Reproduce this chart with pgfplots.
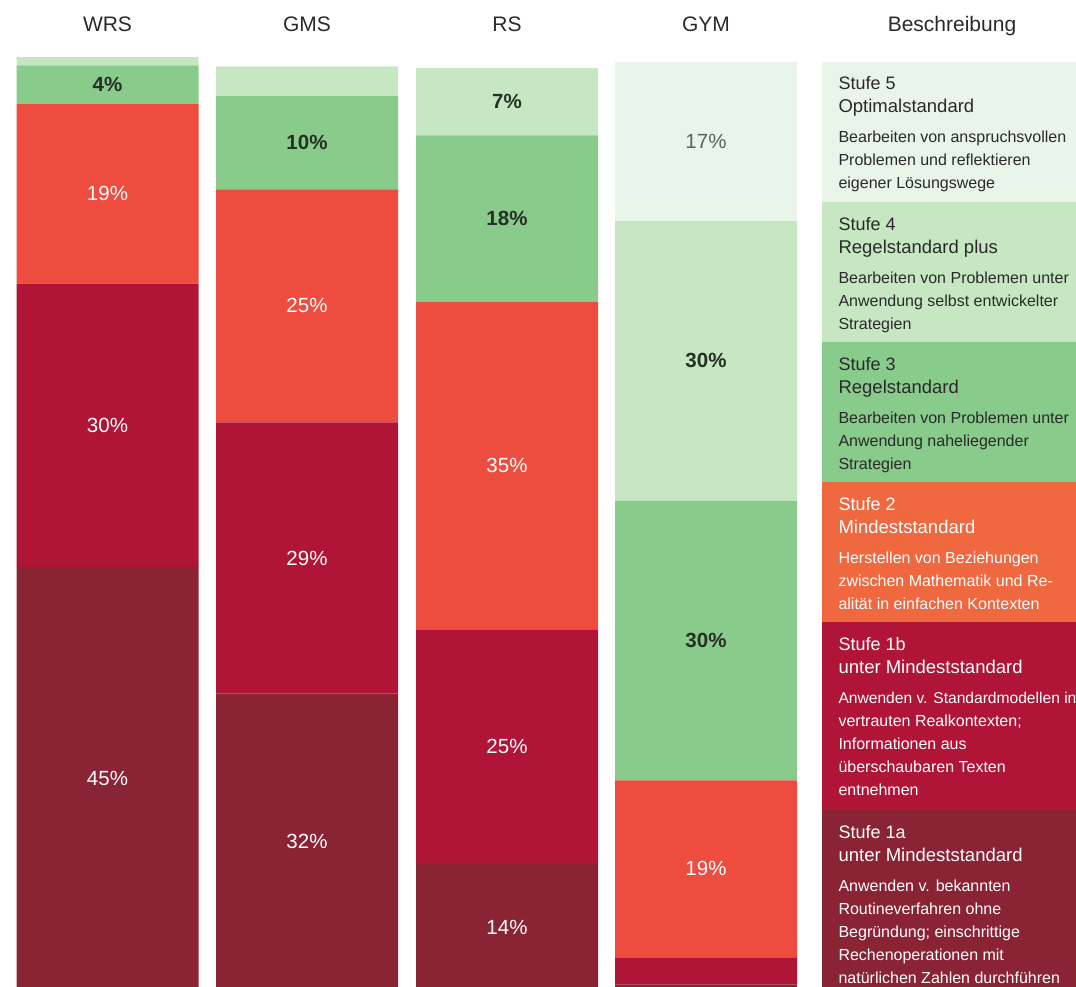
\documentclass[border=0pt]{standalone}
\usepackage{fontspec}
\setmainfont{Liberation Sans}
\usepackage{pgfplots}
\pgfplotsset{compat=1.18}

\definecolor{stufeIa}{HTML}{8A2333}
\definecolor{stufeIb}{HTML}{B01436}
\definecolor{stufeII}{HTML}{EE4C3E}
\definecolor{stufeIIdesc}{HTML}{EF6840}
\definecolor{stufeIII}{HTML}{88CB8B}
\definecolor{stufeIV}{HTML}{C6E7C2}
\definecolor{stufeV}{HTML}{E9F5E9}
\definecolor{darktext}{HTML}{263026}
\definecolor{headtext}{HTML}{2A2A2A}

% one block of the description column: top (px), text colour, Stufe, title, body lines
\newcommand{\descblock}[5]{%
  \node[anchor=base west, text=#2, font=\fontsize{18}{22}\selectfont] at (835,{987-#1-29}) {#3};
  \node[anchor=base west, text=#2, font=\fontsize{18.5}{22}\selectfont] at (835,{987-#1-52}) {#4};
  \foreach \txt [count=\i] in {#5} {
    \node[anchor=base west, text=#2, font=\fontsize{16}{20}\selectfont] at (835,{987-#1-59-23*\i}) {\txt};
  }%
}

\begin{document}
\begin{tikzpicture}
\tikzset{
  pct/.style={font=\fontsize{20.5}{24}\selectfont, anchor=center, text=white},
  pctd/.style={font=\bfseries\fontsize{20.5}{24}\selectfont, anchor=center, text=darktext},
}

% school type columns
\begin{axis}[
  at={(0pt,0pt)}, anchor=south west,
  scale only axis, width=1076pt, height=987pt,
  xmin=0, xmax=1076, ymin=0.32, ymax=106.22,
  hide axis,
  ybar stacked, bar width=182,
]
\addplot[fill=stufeIa, draw=none] coordinates {(107.5,45.4) (307,31.8) (507,13.5) (706,0.6)};
\addplot[fill=stufeIb, draw=none] coordinates {(107.5,30.4) (307,29.1) (507,25.2) (706,2.9)};
\addplot[fill=stufeII, draw=none] coordinates {(107.5,19.3) (307,25.0) (507,35.1) (706,19.0)};
\addplot[fill=stufeIII, draw=none] coordinates {(107.5,4.1) (307,10.0) (507,17.9) (706,30.0)};
\addplot[fill=stufeIV, draw=none] coordinates {(107.5,0.9) (307,3.2) (507,7.2) (706,30.0)};
\addplot[fill=stufeV, draw=none] coordinates {(107.5,0) (307,0) (507,0) (706,17.1)};
\end{axis}

% description column backgrounds
\begin{axis}[
  at={(0pt,0pt)}, anchor=south west,
  scale only axis, width=1076pt, height=987pt,
  xmin=0, xmax=1076, ymin=0.32, ymax=106.22,
  hide axis,
  ybar stacked, bar width=276,
]
\addplot[fill=stufeIa, draw=none] coordinates {(960,19.3)};
\addplot[fill=stufeIb, draw=none] coordinates {(960,20.2)};
\addplot[fill=stufeIIdesc, draw=none] coordinates {(960,15.0)};
\addplot[fill=stufeIII, draw=none] coordinates {(960,15.0)};
\addplot[fill=stufeIV, draw=none] coordinates {(960,15.0)};
\addplot[fill=stufeV, draw=none] coordinates {(960,15.1)};

% value labels, at the middle of each segment
% WRS
\node[pct] at (axis cs:107.5,22.7) {45\%};
\node[pct] at (axis cs:107.5,60.6) {30\%};
\node[pct] at (axis cs:107.5,85.45) {19\%};
\node[pctd] at (axis cs:107.5,97.15) {4\%};
% GMS
\node[pct] at (axis cs:307,15.9) {32\%};
\node[pct] at (axis cs:307,46.35) {29\%};
\node[pct] at (axis cs:307,73.4) {25\%};
\node[pctd] at (axis cs:307,90.9) {10\%};
% RS
\node[pct] at (axis cs:507,6.75) {14\%};
\node[pct] at (axis cs:507,26.1) {25\%};
\node[pct] at (axis cs:507,56.25) {35\%};
\node[pctd] at (axis cs:507,82.75) {18\%};
\node[pctd] at (axis cs:507,95.3) {7\%};
% GYM
\node[pct] at (axis cs:706,13.0) {19\%};
\node[pctd] at (axis cs:706,37.5) {30\%};
\node[pctd] at (axis cs:706,67.5) {30\%};
\node[pct, text=darktext!75] at (axis cs:706,91.05) {17\%};
\end{axis}

\begin{scope}[x=1pt,y=1pt]
% headers
\foreach \x/\t in {107.5/WRS, 307/GMS, 507/RS, 706/GYM, 952/Beschreibung}
  \node[anchor=base, text=headtext, font=\fontsize{21}{25}\selectfont] at (\x,{987-32}) {\t};

\descblock{61}{headtext}{Stufe 5}{Optimalstandard}{Bearbeiten von anspruchsvollen, Problemen und reflektieren, eigener Lösungswege}
\descblock{202}{headtext}{Stufe 4}{Regelstandard plus}{Bearbeiten von Problemen unter, Anwendung selbst entwickelter, Strategien}
\descblock{342}{headtext}{Stufe 3}{Regelstandard}{Bearbeiten von Problemen unter, Anwendung naheliegender, Strategien}
\descblock{482}{white}{Stufe 2}{Mindeststandard}{Herstellen von Beziehungen, zwischen Mathematik und Re-, alität in einfachen Kontexten}
\descblock{622}{white}{Stufe 1b}{unter Mindeststandard}{{\fontsize{15.6}{20}\selectfont Anwenden v. Standardmodellen in}, vertrauten Realkontexten;, Informationen aus, überschaubaren Texten, entnehmen}
\descblock{810}{white}{Stufe 1a}{unter Mindeststandard}{Anwenden v. bekannten, Routineverfahren ohne, Begründung; einschrittige, Rechenoperationen mit, natürlichen Zahlen durchführen}

\pgfresetboundingbox
\path[use as bounding box] (0,0) rectangle (1076,987);
\end{scope}
\end{tikzpicture}
\end{document}
